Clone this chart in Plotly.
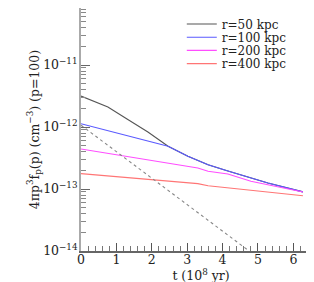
import plotly.graph_objects as go

# Data
t_50 = [0.0, 0.76, 1.3, 1.6, 1.89, 2.46, 3.02, 3.59, 4.15, 5.28, 6.27]
f_50 = [3.16e-12, 2.10e-12, 1.35e-12, 1.06e-12, 8.3e-13, 4.89e-13, 3.37e-13, 2.47e-13, 1.95e-13, 1.25e-13, 9.0e-14]

t_100 = [0.0, 1.89, 2.46, 3.02, 3.59, 4.15, 5.28, 6.27]
f_100 = [1.13e-12, 5.87e-13, 4.89e-13, 3.37e-13, 2.47e-13, 1.95e-13, 1.25e-13, 9.0e-14]

t_200 = [0.0, 1.89, 3.3, 3.59, 4.15, 4.8, 6.27]
f_200 = [4.42e-13, 2.97e-13, 2.18e-13, 1.93e-13, 1.75e-13, 1.33e-13, 8.95e-14]

t_400 = [0.0, 3.3, 3.59, 6.27]
f_400 = [1.77e-13, 1.22e-13, 1.13e-13, 7.8e-14]

t_dot = [0.0, 4.75]
f_dot = [1.07e-12, 1.0e-14]

names = ["r=50 kpc", "r=100 kpc", "r=200 kpc", "r=400 kpc"]
colors = ["#555555", "#5a5aff", "#ff4dff", "#ff7575"]

x_ticks = [0, 1, 2, 3, 4, 5, 6]
y_ticks = [1e-14, 1e-13, 1e-12, 1e-11]
y_ticktext = ["10<sup>\u221214</sup>", "10<sup>\u221213</sup>", "10<sup>\u221212</sup>", "10<sup>\u221211</sup>"]

FONT = "DejaVu Serif"
FS = 12.5
LFS = 12

fig = go.Figure()
series = [(t_50, f_50), (t_100, f_100), (t_200, f_200), (t_400, f_400)]
legend_ids = ["legend", "legend2", "legend3", "legend4"]
for (t, f), n, c, lg in zip(series, names, colors, legend_ids):
    fig.add_trace(go.Scatter(x=t, y=f, mode="lines", name=n, legend=lg,
                             line=dict(color=c, width=1.1)))
fig.add_trace(go.Scatter(x=t_dot, y=f_dot, mode="lines", showlegend=False,
                         line=dict(color="#888888", width=1.1, dash="dot")))

minor_y = [m * 10.0 ** e for e in range(-14, -10) for m in range(2, 10)]

plot_h = 243.0
row_centers = [16.0, 29.2, 42.4, 55.6]
legends = {}
for lg, yc in zip(legend_ids, row_centers):
    legends[lg] = dict(x=0.42, y=1 - yc / plot_h, xanchor="left", yanchor="middle",
                       bgcolor="rgba(0,0,0,0)", font=dict(family=FONT, size=LFS, color="#222222"),
                       itemwidth=30, borderwidth=0)

fig.update_layout(
    width=314, height=282,
    margin=dict(l=73, r=1, t=0, b=39),
    plot_bgcolor="white", paper_bgcolor="white",
    font=dict(family=FONT, size=FS, color="#222222"),
    showlegend=True,
    **legends,
)
fig.update_xaxes(
    range=[0, 6.78], tickvals=x_ticks, ticks="inside", ticklen=8,
    tickcolor="#555555", showline=True, linecolor="#666666", linewidth=1.5,
    showgrid=False, zeroline=False,
    minor=dict(dtick=0.2, ticks="inside", ticklen=5, tickcolor="#777777", showgrid=False),
    ticklabelstandoff=-4,
    title=dict(text="t (10<sup>8</sup> yr)", font=dict(family=FONT, size=FS), standoff=2),
    tickfont=dict(family=FONT, size=FS),
)
fig.update_yaxes(
    type="log", range=[-14, -10.08], tickvals=y_ticks, ticktext=y_ticktext,
    ticks="inside", ticklen=9, tickcolor="#666666",
    showline=True, linecolor="#aaaaaa", linewidth=2,
    showgrid=False, zeroline=False,
    minor=dict(tickvals=minor_y, ticks="inside", ticklen=5, tickcolor="#888888", showgrid=False),
    ticklabelstandoff=-1,
    title=dict(text="4\u03c0p<sup>3</sup>f<sub>p</sub>(p) (cm<sup>\u22123</sup>) (p=100)",
               font=dict(family=FONT, size=FS), standoff=0),
    tickfont=dict(family=FONT, size=FS),
)

fig.write_html("out.html")
